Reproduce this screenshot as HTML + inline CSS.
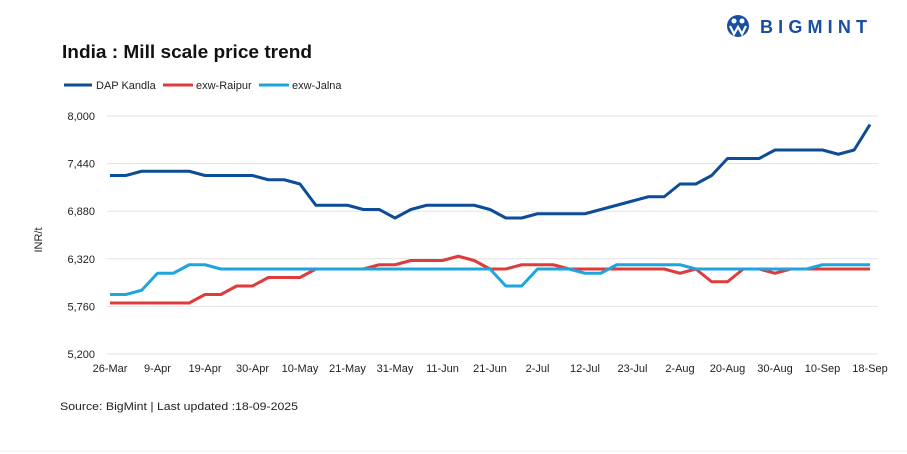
<!DOCTYPE html>
<html><head><meta charset="utf-8"><style>
html,body{margin:0;padding:0;background:#fff;width:907px;height:454px;overflow:hidden;font-family:"Liberation Sans",sans-serif}
</style></head><body>
<svg id="c" width="907" height="454" style="position:absolute;left:0;top:0">
<g>
<circle cx="738" cy="26" r="11" fill="#1a4fa0"/>
<circle cx="734" cy="21" r="2.5" fill="#fff"/><circle cx="742" cy="21" r="2.5" fill="#fff"/>
<path d="M730 26 L734 34 L738 27 L742 34 L746 26" stroke="#fff" stroke-width="2.2" fill="none"/>
<text x="760" y="33" font-size="18" font-weight="bold" fill="#1a4fa0" textLength="107" lengthAdjust="spacing">BIGMINT</text>
</g>
<text x="62" y="58" font-size="18" font-weight="bold" fill="#111" textLength="250" lengthAdjust="spacingAndGlyphs">India : Mill scale price trend</text>
<g font-size="11" fill="#222">
<g><line x1="64" y1="85" x2="92" y2="85" stroke="#0d4c96" stroke-width="3"/><text x="96" y="89">DAP Kandla</text></g>
<g><line x1="163" y1="85" x2="193" y2="85" stroke="#e03b3b" stroke-width="3"/><text x="196" y="89">exw-Raipur</text></g>
<g><line x1="259" y1="85" x2="289" y2="85" stroke="#1ea5de" stroke-width="3"/><text x="292" y="89">exw-Jalna</text></g>
</g>
<text transform="translate(42,240) rotate(-90)" font-size="11" text-anchor="middle" fill="#222">INR/t</text>
<g id="grid"></g><g id="ylab"></g><g id="xlab"></g><g id="series"></g>
<text x="60" y="410" font-size="11" fill="#222" textLength="238" lengthAdjust="spacingAndGlyphs">Source: BigMint | Last updated :18-09-2025</text>
<line x1="0" y1="451" x2="907" y2="451" stroke="#eee" stroke-width="1"/>
</svg>
<script>
const yTicks=[5200,5760,6320,6880,7440,8000];
const xLabels=["26-Mar","9-Apr","19-Apr","30-Apr","10-May","21-May","31-May","11-Jun","21-Jun","2-Jul","12-Jul","23-Jul","2-Aug","20-Aug","30-Aug","10-Sep","18-Sep"];
const dapKandla=[7300,7300,7350,7350,7350,7350,7300,7300,7300,7300,7250,7250,7200,6950,6950,6950,6900,6900,6800,6900,6950,6950,6950,6950,6900,6800,6800,6850,6850,6850,6850,6900,6950,7000,7050,7050,7200,7200,7300,7500,7500,7500,7600,7600,7600,7600,7550,7600,7900];
const exwRaipur=[5800,5800,5800,5800,5800,5800,5900,5900,6000,6000,6100,6100,6100,6200,6200,6200,6200,6250,6250,6300,6300,6300,6350,6300,6200,6200,6250,6250,6250,6200,6200,6200,6200,6200,6200,6200,6150,6200,6050,6050,6200,6200,6150,6200,6200,6200,6200,6200,6200];
const exwJalna=[5900,5900,5950,6150,6150,6250,6250,6200,6200,6200,6200,6200,6200,6200,6200,6200,6200,6200,6200,6200,6200,6200,6200,6200,6200,6000,6000,6200,6200,6200,6150,6150,6250,6250,6250,6250,6250,6200,6200,6200,6200,6200,6200,6200,6200,6250,6250,6250,6250];
const NS="http://www.w3.org/2000/svg";
const x0=110,x1=870,y0=354,y1=116,vMin=5200,vMax=8000;
const n=dapKandla.length;
function xs(i){return x0+i*(x1-x0)/(n-1);}
function ys(v){return y0-(v-vMin)/(vMax-vMin)*(y0-y1);}
function mk(t,a){const e=document.createElementNS(NS,t);for(const k in a)e.setAttribute(k,a[k]);return e;}
const grid=document.getElementById('grid'),yl=document.getElementById('ylab'),xl=document.getElementById('xlab'),sg=document.getElementById('series');
yTicks.forEach(v=>{
 const l=mk('line',{x1:107,x2:878,y1:ys(v),y2:ys(v),stroke:'#e3e3e3','stroke-width':1});
 
 
 grid.appendChild(l);
 const t=mk('text',{x:95,y:ys(v)+4,'font-size':11,'text-anchor':'end',fill:'#222'});
 t.textContent=v.toLocaleString('en-US');
 
 
 yl.appendChild(t);
});
xLabels.forEach((s,k)=>{
 const t=mk('text',{x:xs(k*3),y:372,'font-size':11,'text-anchor':'middle',fill:'#222'});
 t.textContent=s;
 
 
 xl.appendChild(t);
});
[[dapKandla,'#0d4c96','dap-kandla-line'],[exwRaipur,'#e03b3b','exw-raipur-line'],[exwJalna,'#1ea5de','exw-jalna-line']].forEach(([d,c,nm])=>{
 const p=mk('polyline',{points:d.map((v,i)=>xs(i)+','+ys(v)).join(' '),fill:'none',stroke:c,'stroke-width':3,'stroke-linejoin':'round'});
 
 
 sg.appendChild(p);
});
</script>
</body></html>
